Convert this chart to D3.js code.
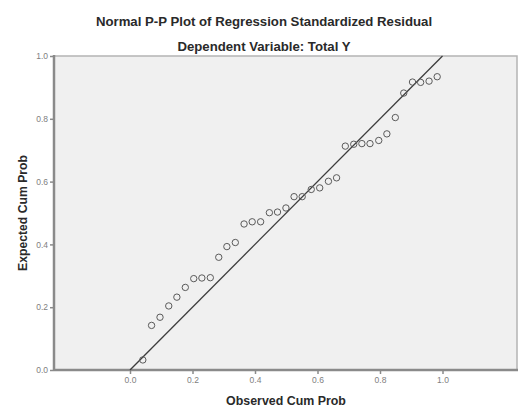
<!DOCTYPE html>
<html>
<head>
<meta charset="utf-8">
<script src="https://cdn.jsdelivr.net/npm/d3@7"></script>
<style>
  body { margin: 0; background: #fff; }
  svg { display: block; font-family: "Liberation Sans", Arial, sans-serif; }
</style>
</head>
<body>
<div id="chart"></div>
<script>
// observed vs expected cumulative probabilities
var observed = [0.041, 0.069, 0.096, 0.124, 0.150, 0.177, 0.204, 0.230, 0.257,
  0.284, 0.310, 0.337, 0.365, 0.391, 0.418, 0.446, 0.472, 0.499, 0.525, 0.551,
  0.580, 0.607, 0.635, 0.661, 0.689, 0.716, 0.742, 0.768, 0.796, 0.822, 0.849,
  0.876, 0.904, 0.930, 0.957, 0.983];
var expected = [0.032, 0.142, 0.168, 0.204, 0.232, 0.263, 0.291, 0.293, 0.294,
  0.359, 0.393, 0.406, 0.465, 0.472, 0.472, 0.501, 0.503, 0.516, 0.552, 0.552,
  0.575, 0.580, 0.601, 0.612, 0.713, 0.719, 0.721, 0.721, 0.731, 0.752, 0.804,
  0.882, 0.917, 0.916, 0.920, 0.934];
var ticks = [0.0, 0.2, 0.4, 0.6, 0.8, 1.0];

var width = 518, height = 406;

var svg = d3.select('#chart').append('svg')
  .attr('width', width)
  .attr('height', height);

let x = d3.scaleLinear().domain([0, 1]).range([130, 442.5]);
let y = d3.scaleLinear().domain([0, 1]).range([370, 56]);

let x0 = x.invert(54), x1 = x.invert(517);

// plot background
svg.append('rect')
  .attr('x', x(x0)).attr('y', y(1))
  .attr('width', x(x1) - x(x0)).attr('height', y(0) - y(1))
  .attr('fill', '#f0f0f0')
  .attr('stroke', '#b4b4b4')
  .attr('stroke-width', 1.5);

// axes
let xAxis = d3.axisBottom(x).tickValues(ticks).tickFormat(d3.format('.1f'))
  .tickSize(4).tickPadding(3);
let yAxis = d3.axisLeft(y).tickValues(ticks).tickFormat(d3.format('.1f'))
  .tickSize(4).tickPadding(2);

let gx = svg.append('g').attr('transform', 'translate(0,' + y(0) + ')').call(xAxis);
gx.select('.domain').remove();
let gy = svg.append('g').attr('transform', 'translate(' + x(x0) + ',0)').call(yAxis);
gy.select('.domain').remove();

svg.selectAll('.tick line').attr('stroke', '#8a8a8a').attr('stroke-width', 1.5);
svg.selectAll('.tick text').attr('fill', '#808080').attr('font-size', 8.5);

svg.append('line')
  .attr('x1', x(x0)).attr('x2', x(x0)).attr('y1', y(1) - 1).attr('y2', y(0))
  .attr('stroke', '#8a8a8a').attr('stroke-width', 2.5);
svg.append('line')
  .attr('x1', x(x0)).attr('x2', x(x1) + 1).attr('y1', y(0)).attr('y2', y(0))
  .attr('stroke', '#8a8a8a').attr('stroke-width', 2.5);

// reference line
svg.append('line')
  .attr('x1', x(0)).attr('y1', y(0))
  .attr('x2', x(1)).attr('y2', y(1))
  .attr('stroke', '#3c3c3c').attr('stroke-width', 1.3);

// points
svg.selectAll('circle.pt')
  .data(observed.map((d, i) => [d, expected[i]]))
  .enter().append('circle')
    .attr('class', 'pt')
    .attr('cx', d => x(d[0]))
    .attr('cy', d => y(d[1]))
    .attr('r', 3.2)
    .attr('fill', 'none')
    .attr('stroke', '#5a5a5a')
    .attr('stroke-width', 1);

// titles
svg.append('text')
  .attr('x', 264).attr('y', 25.5)
  .attr('text-anchor', 'middle')
  .attr('font-size', 13.2).attr('font-weight', 'bold').attr('fill', '#2a2a2a')
  .text('Normal P-P Plot of Regression Standardized Residual');
svg.append('text')
  .attr('x', 264).attr('y', 51)
  .attr('text-anchor', 'middle')
  .attr('font-size', 13.2).attr('font-weight', 'bold').attr('fill', '#2a2a2a')
  .text('Dependent Variable: Total Y');

svg.append('text')
  .attr('x', 286).attr('y', 404.5)
  .attr('text-anchor', 'middle')
  .attr('font-size', 12.4).attr('font-weight', 'bold').attr('fill', '#2a2a2a')
  .text('Observed Cum Prob');
svg.append('text')
  .attr('transform', 'translate(27,213) rotate(-90)')
  .attr('text-anchor', 'middle')
  .attr('font-size', 12.2).attr('font-weight', 'bold').attr('fill', '#2a2a2a')
  .text('Expected Cum Prob');
</script>
</body>
</html>
